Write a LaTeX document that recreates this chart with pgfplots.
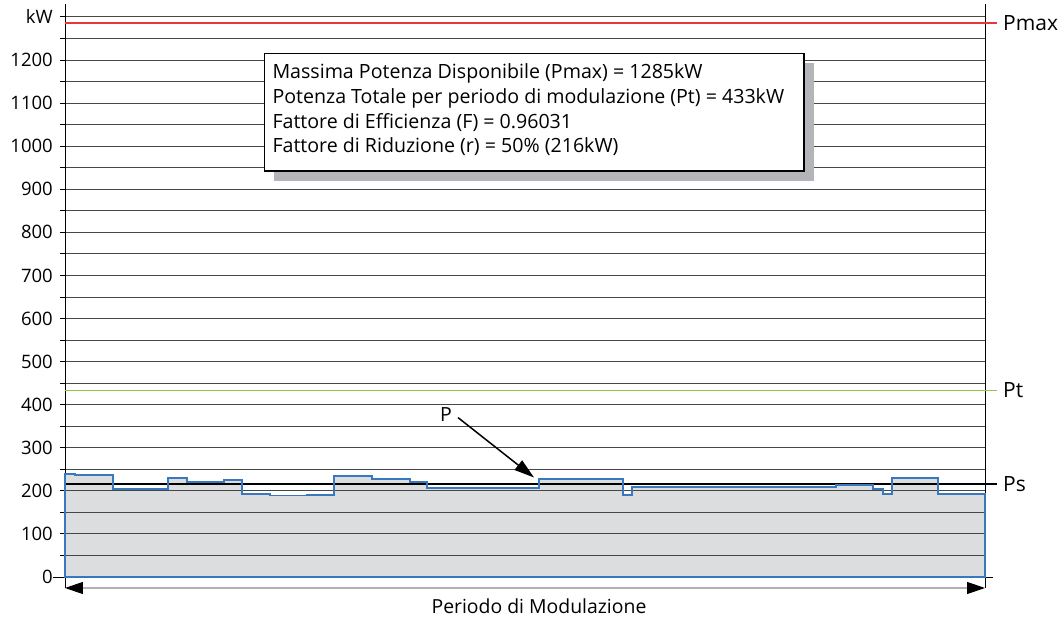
\documentclass[border=0pt]{standalone}
\usepackage{pgfplots}
\pgfplotsset{compat=1.18}
\usepackage{pgfplotstable}
\usepackage{fontspec}
\setmainfont{Open Sans}
\usetikzlibrary{arrows.meta}
\definecolor{pblue}{RGB}{56,120,190}
\definecolor{pfill}{RGB}{220,221,223}
\definecolor{pred}{RGB}{232,54,63}
\definecolor{pgreen}{RGB}{141,198,63}
\definecolor{pshadow}{RGB}{180,181,184}
\pgfplotstableread{
x y
0 0
0 240
10 237
48 205
103 230
122 220
159 226
177 193
205 189
242 191
269 234
307 228
345 220
362 206
474 227
558 191
567 209
771 213
808 204
818 192
827 230
873 192
920 192
920 0
}\steps
\begin{document}
\begin{tikzpicture}
\begin{axis}[
  at={(65pt,30pt)}, anchor=south west, scale only axis,
  width=920pt, height=584pt,
  xmin=0, xmax=920, ymin=-25.5, ymax=1330,
  axis line style={draw=none}, xtick=\empty,
  ytick={0,100,...,1200}, minor ytick={50,150,...,1250},
  extra y ticks={1300}, extra y tick labels={\raisebox{-7pt}{kW}},
  ytick pos=left, tick align=outside,
  major tick length=5pt, minor tick length=5pt,
  tick style={black, line width=0.9pt},
  yticklabel style={font=\fontsize{18.5}{20}\selectfont, inner sep=0pt, xshift=-7pt},
  /pgf/number format/assume math mode=true,
  /pgf/number format/1000 sep={},
  clip=false,
]
\addplot[draw=none, fill=pfill, const plot] table {\steps} -- cycle;
\pgfplotsinvokeforeach{50,100,...,1300}{\draw[black!72, line width=0.9pt] (axis cs:0,#1) -- (axis cs:920,#1);}
\draw[black, line width=0.9pt] (axis cs:-12,0) -- (axis cs:928,0);
\draw[black, line width=0.9pt] (axis cs:0,-25.5) -- (axis cs:0,1330);
\draw[black, line width=0.9pt] (axis cs:920,-25.5) -- (axis cs:920,1330);
\addplot[black, line width=1.5pt] coordinates {(0,216) (932,216)};
\addplot[pblue, line width=1.8pt, const plot, line join=miter] table {\steps} -- cycle;
\addplot[pred, line width=1.8pt] coordinates {(0,1285) (932,1285)};
\addplot[pgreen, line width=1.8pt] coordinates {(0,433) (932,433)};
\node[anchor=west, inner sep=0pt, font=\fontsize{21}{24}\selectfont] at (axis cs:938,1285) {Pmax};
\node[anchor=west, inner sep=0pt, font=\fontsize{21}{24}\selectfont] at (axis cs:938,433) {Pt};
\node[anchor=west, inner sep=0pt, font=\fontsize{21}{24}\selectfont] at (axis cs:938,216) {Ps};
\draw[black!30, line width=1.2pt, {Triangle[length=18pt,width=12pt,color=black]}-{Triangle[length=18pt,width=12pt,color=black]}] (axis cs:0,-25.5) -- (axis cs:920,-25.5);
\draw[black, line width=1.5pt, -{Triangle[length=20pt,width=12pt]}] (axis cs:393,370) -- (axis cs:469,231);
\node[inner sep=0pt, font=\fontsize{19.5}{22}\selectfont] at (axis cs:381,376) {P};
\end{axis}
\node[font=\fontsize{19.4}{22}\selectfont] at (539pt,12pt) {Periodo di Modulazione};
\fill[pshadow] (274.3pt,554.7pt) rectangle (814pt,437pt);
\draw[fill=white, line width=1.2pt] (264.3pt,564.7pt) rectangle (804pt,447pt);
\begin{scope}[every node/.style={anchor=base west, inner sep=0pt, font=\fontsize{19.6}{22}\selectfont}]
\node at (272.3pt,539.7pt) {Massima Potenza Disponibile (Pmax) = 1285kW};
\node at (272.3pt,514.7pt) {Potenza Totale per periodo di modulazione (Pt) = 433kW};
\node at (272.3pt,489.7pt) {Fattore di Efficienza (F) = 0.96031};
\node at (272.3pt,465.3pt) {Fattore di Riduzione (r) = 50\% (216kW)};
\end{scope}
\pgfresetboundingbox
\useasboundingbox (0,0) rectangle (1063pt,618pt);
\end{tikzpicture}
\end{document}
